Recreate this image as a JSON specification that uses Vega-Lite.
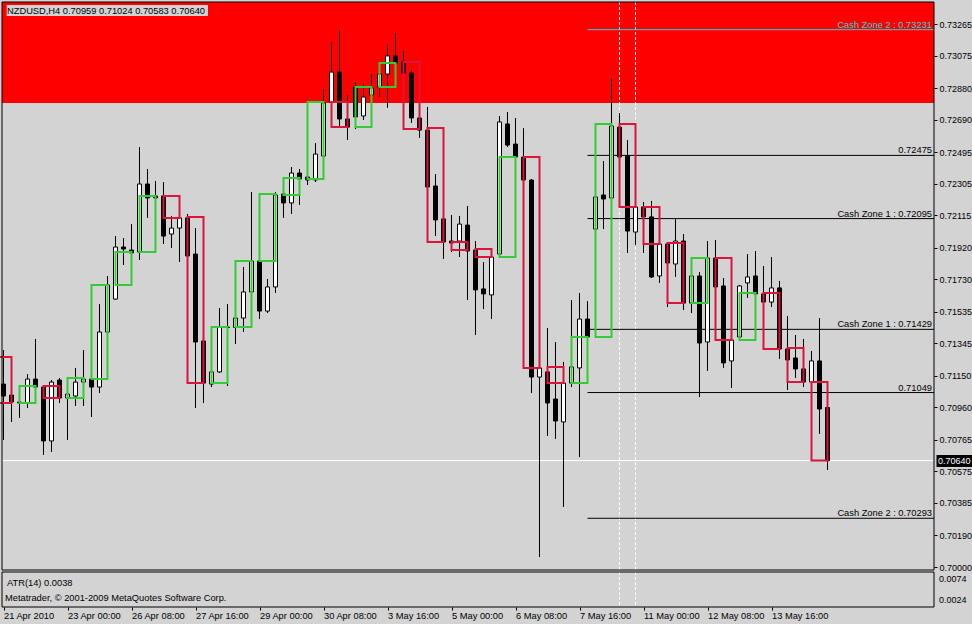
{
"$schema":"https://vega.github.io/schema/vega-lite/v6.json",
"width":932,"height":605,
"autosize":{"type":"none"},
"padding":{"left":2,"top":2,"right":38,"bottom":17},
"background":"#D3D3D3",
"config":{"view":{"stroke":null},"font":"Liberation Sans","text":{"font":"Liberation Sans","fontSize":9.3},
  "axis":{"grid":false,"domain":false,"labelFont":"Liberation Sans","labelFontSize":9,"labelColor":"black","tickColor":"black","titleColor":"transparent","labelOverlap":false,"labelBound":false,"labelFlush":false,"tickCount":40}},
"datasets":{
"candles":[
{"i":0,"o":0.71100,"h":0.71305,"l":0.70764,"c":0.71028},
{"i":1,"o":0.71034,"h":0.71046,"l":0.70872,"c":0.70992},
{"i":2,"o":0.70992,"h":0.71004,"l":0.70896,"c":0.70986},
{"i":3,"o":0.70986,"h":0.71160,"l":0.70956,"c":0.71130},
{"i":4,"o":0.71130,"h":0.71371,"l":0.71076,"c":0.71082},
{"i":5,"o":0.71082,"h":0.71094,"l":0.70674,"c":0.70758},
{"i":6,"o":0.70758,"h":0.71124,"l":0.70692,"c":0.71112},
{"i":7,"o":0.71124,"h":0.71136,"l":0.70986,"c":0.71016},
{"i":8,"o":0.71016,"h":0.71046,"l":0.70764,"c":0.71040},
{"i":9,"o":0.71028,"h":0.71197,"l":0.70968,"c":0.71112},
{"i":10,"o":0.71112,"h":0.71305,"l":0.70968,"c":0.71130},
{"i":11,"o":0.71130,"h":0.71136,"l":0.70902,"c":0.71082},
{"i":12,"o":0.71082,"h":0.71581,"l":0.71046,"c":0.71413},
{"i":13,"o":0.71413,"h":0.71750,"l":0.71410,"c":0.71696},
{"i":14,"o":0.71611,"h":0.71990,"l":0.71608,"c":0.71924},
{"i":15,"o":0.71924,"h":0.71978,"l":0.71816,"c":0.71912},
{"i":16,"o":0.71906,"h":0.72062,"l":0.71885,"c":0.71888},
{"i":17,"o":0.71894,"h":0.72525,"l":0.71846,"c":0.72303},
{"i":18,"o":0.72303,"h":0.72393,"l":0.72099,"c":0.72219},
{"i":19,"o":0.72231,"h":0.72321,"l":0.72207,"c":0.72219},
{"i":20,"o":0.72231,"h":0.72315,"l":0.71942,"c":0.71990},
{"i":21,"o":0.72002,"h":0.72111,"l":0.71918,"c":0.72038},
{"i":22,"o":0.72038,"h":0.72117,"l":0.71834,"c":0.72099},
{"i":23,"o":0.72099,"h":0.72123,"l":0.71867,"c":0.71870},
{"i":24,"o":0.71882,"h":0.72038,"l":0.70956,"c":0.71353},
{"i":25,"o":0.71359,"h":0.71365,"l":0.70986,"c":0.71106},
{"i":26,"o":0.71100,"h":0.71179,"l":0.71082,"c":0.71173},
{"i":27,"o":0.71173,"h":0.71557,"l":0.71167,"c":0.71443},
{"i":28,"o":0.71443,"h":0.71581,"l":0.71088,"c":0.71440},
{"i":29,"o":0.71440,"h":0.71500,"l":0.71341,"c":0.71497},
{"i":30,"o":0.71497,"h":0.71804,"l":0.71413,"c":0.71654},
{"i":31,"o":0.71654,"h":0.72255,"l":0.71650,"c":0.71840},
{"i":32,"o":0.71840,"h":0.71846,"l":0.71491,"c":0.71539},
{"i":33,"o":0.71539,"h":0.71732,"l":0.71527,"c":0.71684},
{"i":34,"o":0.71684,"h":0.72255,"l":0.71648,"c":0.72237},
{"i":35,"o":0.72243,"h":0.72345,"l":0.72099,"c":0.72189},
{"i":36,"o":0.72189,"h":0.72405,"l":0.72123,"c":0.72369},
{"i":37,"o":0.72369,"h":0.72393,"l":0.72177,"c":0.72333},
{"i":38,"o":0.72345,"h":0.72351,"l":0.72297,"c":0.72327},
{"i":39,"o":0.72327,"h":0.72549,"l":0.72315,"c":0.72483},
{"i":40,"o":0.72471,"h":0.72874,"l":0.72465,"c":0.72790},
{"i":41,"o":0.72796,"h":0.73157,"l":0.72790,"c":0.72976},
{"i":42,"o":0.72976,"h":0.73229,"l":0.72652,"c":0.72694},
{"i":43,"o":0.72694,"h":0.72838,"l":0.72568,"c":0.72645},
{"i":44,"o":0.72886,"h":0.72916,"l":0.72633,"c":0.72706},
{"i":45,"o":0.72712,"h":0.72910,"l":0.72688,"c":0.72826},
{"i":46,"o":0.72838,"h":0.72964,"l":0.72835,"c":0.72880},
{"i":47,"o":0.72886,"h":0.72988,"l":0.72826,"c":0.72964},
{"i":48,"o":0.72964,"h":0.73145,"l":0.72761,"c":0.73073},
{"i":49,"o":0.73073,"h":0.73211,"l":0.73028,"c":0.73031},
{"i":50,"o":0.73037,"h":0.73103,"l":0.72967,"c":0.72970},
{"i":51,"o":0.72970,"h":0.72988,"l":0.72670,"c":0.72700},
{"i":52,"o":0.72700,"h":0.72706,"l":0.72580,"c":0.72627},
{"i":53,"o":0.72627,"h":0.72766,"l":0.72282,"c":0.72285},
{"i":54,"o":0.72291,"h":0.72363,"l":0.71990,"c":0.72087},
{"i":55,"o":0.72093,"h":0.72099,"l":0.71852,"c":0.71954},
{"i":56,"o":0.71960,"h":0.72117,"l":0.71894,"c":0.71948},
{"i":57,"o":0.71960,"h":0.72111,"l":0.71864,"c":0.72062},
{"i":58,"o":0.72056,"h":0.72171,"l":0.71605,"c":0.71900},
{"i":59,"o":0.71906,"h":0.71960,"l":0.71395,"c":0.71666},
{"i":60,"o":0.71672,"h":0.71834,"l":0.71551,"c":0.71642},
{"i":61,"o":0.71636,"h":0.71870,"l":0.71491,"c":0.71864},
{"i":62,"o":0.71882,"h":0.72712,"l":0.71876,"c":0.72676},
{"i":63,"o":0.72664,"h":0.72736,"l":0.72525,"c":0.72537},
{"i":64,"o":0.72543,"h":0.72700,"l":0.72462,"c":0.72465},
{"i":65,"o":0.72465,"h":0.72639,"l":0.72324,"c":0.72327},
{"i":66,"o":0.72327,"h":0.72333,"l":0.71046,"c":0.71142},
{"i":67,"o":0.71142,"h":0.71203,"l":0.70060,"c":0.71197},
{"i":68,"o":0.71173,"h":0.71437,"l":0.70788,"c":0.70986},
{"i":69,"o":0.71010,"h":0.71353,"l":0.70770,"c":0.70878},
{"i":70,"o":0.70872,"h":0.71233,"l":0.70361,"c":0.71106},
{"i":71,"o":0.71106,"h":0.71605,"l":0.71082,"c":0.71203},
{"i":72,"o":0.71197,"h":0.71648,"l":0.70661,"c":0.71491},
{"i":73,"o":0.71491,"h":0.71599,"l":0.71380,"c":0.71383},
{"i":74,"o":0.72032,"h":0.72231,"l":0.71377,"c":0.72225},
{"i":75,"o":0.72237,"h":0.72441,"l":0.72032,"c":0.72213},
{"i":76,"o":0.72219,"h":0.72940,"l":0.72213,"c":0.72652},
{"i":77,"o":0.72645,"h":0.72730,"l":0.72462,"c":0.72465},
{"i":78,"o":0.72471,"h":0.72568,"l":0.71888,"c":0.72020},
{"i":79,"o":0.72014,"h":0.72168,"l":0.71936,"c":0.72165},
{"i":80,"o":0.72165,"h":0.72195,"l":0.71888,"c":0.72105},
{"i":81,"o":0.72105,"h":0.72201,"l":0.71738,"c":0.71744},
{"i":82,"o":0.71750,"h":0.71948,"l":0.71708,"c":0.71942},
{"i":83,"o":0.71942,"h":0.71948,"l":0.71563,"c":0.71828},
{"i":84,"o":0.71822,"h":0.72099,"l":0.71744,"c":0.71960},
{"i":85,"o":0.71960,"h":0.72002,"l":0.71545,"c":0.71587},
{"i":86,"o":0.71587,"h":0.71756,"l":0.71527,"c":0.71750},
{"i":87,"o":0.71750,"h":0.71774,"l":0.71022,"c":0.71347},
{"i":88,"o":0.71353,"h":0.71960,"l":0.71179,"c":0.71858},
{"i":89,"o":0.71858,"h":0.71966,"l":0.71681,"c":0.71684},
{"i":90,"o":0.71690,"h":0.71738,"l":0.71197,"c":0.71227},
{"i":91,"o":0.71239,"h":0.71371,"l":0.71076,"c":0.71365},
{"i":92,"o":0.71383,"h":0.71696,"l":0.71377,"c":0.71690},
{"i":93,"o":0.71708,"h":0.71882,"l":0.71618,"c":0.71744},
{"i":94,"o":0.71750,"h":0.71900,"l":0.71639,"c":0.71642},
{"i":95,"o":0.71642,"h":0.71810,"l":0.71590,"c":0.71593},
{"i":96,"o":0.71593,"h":0.71864,"l":0.71563,"c":0.71678},
{"i":97,"o":0.71678,"h":0.71720,"l":0.71251,"c":0.71311},
{"i":98,"o":0.71311,"h":0.71509,"l":0.71064,"c":0.71245},
{"i":99,"o":0.71257,"h":0.71395,"l":0.71136,"c":0.71191},
{"i":100,"o":0.71191,"h":0.71371,"l":0.71082,"c":0.71112},
{"i":101,"o":0.71112,"h":0.71299,"l":0.71106,"c":0.71239},
{"i":102,"o":0.71239,"h":0.71497,"l":0.70800,"c":0.70950},
{"i":103,"o":0.70959,"h":0.71024,"l":0.70583,"c":0.70640}
],
"boxes":[
{"start":-1,"end":1,"open":0.71263,"close":0.70986},
{"start":2,"end":4,"open":0.70986,"close":0.71088},
{"start":5,"end":7,"open":0.71088,"close":0.71016},
{"start":8,"end":10,"open":0.71016,"close":0.71136},
{"start":11,"end":13,"open":0.71130,"close":0.71696},
{"start":14,"end":16,"open":0.71696,"close":0.71894},
{"start":17,"end":19,"open":0.71894,"close":0.72231},
{"start":20,"end":22,"open":0.72231,"close":0.72099},
{"start":23,"end":25,"open":0.72105,"close":0.71106},
{"start":26,"end":28,"open":0.71106,"close":0.71443},
{"start":29,"end":31,"open":0.71443,"close":0.71840},
{"start":32,"end":34,"open":0.71840,"close":0.72243},
{"start":35,"end":37,"open":0.72237,"close":0.72339},
{"start":38,"end":40,"open":0.72333,"close":0.72796},
{"start":41,"end":43,"open":0.72796,"close":0.72645},
{"start":44,"end":46,"open":0.72645,"close":0.72886},
{"start":47,"end":49,"open":0.72886,"close":0.73031},
{"start":50,"end":52,"open":0.73037,"close":0.72633},
{"start":53,"end":55,"open":0.72639,"close":0.71954},
{"start":56,"end":58,"open":0.71954,"close":0.71906},
{"start":59,"end":61,"open":0.71912,"close":0.71864},
{"start":62,"end":64,"open":0.71864,"close":0.72465},
{"start":65,"end":67,"open":0.72465,"close":0.71197},
{"start":68,"end":70,"open":0.71203,"close":0.71106},
{"start":71,"end":73,"open":0.71106,"close":0.71383},
{"start":74,"end":76,"open":0.71383,"close":0.72664},
{"start":77,"end":79,"open":0.72664,"close":0.72165},
{"start":80,"end":82,"open":0.72165,"close":0.71942},
{"start":83,"end":85,"open":0.71948,"close":0.71587},
{"start":86,"end":88,"open":0.71587,"close":0.71858},
{"start":89,"end":91,"open":0.71858,"close":0.71365},
{"start":92,"end":94,"open":0.71365,"close":0.71648},
{"start":95,"end":97,"open":0.71648,"close":0.71311},
{"start":98,"end":100,"open":0.71317,"close":0.71112},
{"start":101,"end":103,"open":0.71112,"close":0.70640}
],
"levels":[
{"price":0.73231,"label":"Cash Zone 2 : 0.73231"},
{"price":0.72475,"label":"0.72475"},
{"price":0.72095,"label":"Cash Zone 1 : 0.72095"},
{"price":0.71429,"label":"Cash Zone 1 : 0.71429"},
{"price":0.71049,"label":"0.71049"},
{"price":0.70293,"label":"Cash Zone 2 : 0.70293"}
]
},
"layer":[
{"data":{"values":[{"from":0.7279,"to":0.74}]},
 "mark":{"type":"rect","color":"#FF0000","clip":true},
 "encoding":{
  "x":{"datum":-1,"type":"quantitative","scale":{"domain":[-0.1875,116.3125],"nice":false,"zero":false,"padding":0}},
  "x2":{"datum":118},
  "y":{"field":"from","type":"quantitative","scale":{"domain":[0.697595,0.733973],"nice":false,"zero":false}},
  "y2":{"field":"to"}}},
{"data":{"values":[{"i":77},{"i":79}]},
 "mark":{"type":"rule","color":"white","strokeWidth":1,"strokeDash":[3,2]},
 "encoding":{"x":{"field":"i","type":"quantitative","scale":{"domain":[-0.1875,116.3125],"nice":false,"zero":false,"padding":0}}}},
{"data":{"values":[{"price":0.7064}]},
 "mark":{"type":"rule","color":"white","strokeWidth":1},
 "encoding":{"y":{"field":"price","type":"quantitative","scale":{"domain":[0.697595,0.733973],"nice":false,"zero":false}}}},
{"data":{"name":"levels"},
 "mark":{"type":"rule","strokeWidth":1},
 "encoding":{
  "x":{"datum":73,"type":"quantitative","scale":{"domain":[-0.1875,116.3125],"nice":false,"zero":false,"padding":0}},
  "x2":{"datum":116.3125},
  "y":{"field":"price","type":"quantitative","scale":{"domain":[0.697595,0.733973],"nice":false,"zero":false}},
  "color":{"condition":{"test":"datum.price > 0.73","value":"#22D3D8"},"value":"black"}}},
{"data":{"name":"levels"},
 "mark":{"type":"text","align":"right","baseline":"alphabetic","dy":-2,"font":"Liberation Sans","fontSize":9.3},
 "encoding":{
  "x":{"datum":116.06,"type":"quantitative","scale":{"domain":[-0.1875,116.3125],"nice":false,"zero":false,"padding":0}},
  "y":{"field":"price","type":"quantitative","scale":{"domain":[0.697595,0.733973],"nice":false,"zero":false}},
  "text":{"field":"label"},
  "color":{"condition":{"test":"datum.price > 0.73","value":"#22D3D8"},"value":"black"}}},
{"data":{"name":"candles"},
 "mark":{"type":"rule","color":"black","strokeWidth":1},
 "encoding":{
  "x":{"field":"i","type":"quantitative","scale":{"domain":[-0.1875,116.3125],"nice":false,"zero":false,"padding":0},
       "axis":{"orient":"bottom","values":[0,8,16,24,32,40,48,56,64,72,80,88,96],"tickCount":40,
               "labelExpr":"['21 Apr 2010','23 Apr 00:00','26 Apr 08:00','27 Apr 16:00','29 Apr 00:00','30 Apr 08:00','3 May 16:00','5 May 00:00','6 May 08:00','7 May 16:00','11 May 00:00','12 May 08:00','13 May 16:00'][round(datum.value/8)]",
               "labelAlign":"left","labelBaseline":"top","labelPadding":1,"tickSize":3,"labelFontSize":9.3,
               "title":null,"labelFlush":false,"labelOverlap":false,"labelBound":false}},
  "y":{"field":"l","type":"quantitative","scale":{"domain":[0.697595,0.733973],"nice":false,"zero":false},
       "axis":{"orient":"right","values":[0.73265,0.73075,0.7288,0.7269,0.72495,0.72305,0.72115,0.7192,0.7173,0.71535,0.71345,0.7115,0.7096,0.70765,0.70575,0.70385,0.7019,0.7],
               "tickCount":40,"format":".5f",
               "tickSize":3,"labelPadding":2,"title":null,"labelOverlap":false,"labelBound":false,"labelFlush":false}},
  "y2":{"field":"h"}}},
{"data":{"name":"candles"},
 "mark":{"type":"bar","size":4,"stroke":"black","strokeWidth":1},
 "encoding":{
  "x":{"field":"i","type":"quantitative","scale":{"domain":[-0.1875,116.3125],"nice":false,"zero":false,"padding":0}},
  "y":{"field":"o","type":"quantitative","scale":{"domain":[0.697595,0.733973],"nice":false,"zero":false}},
  "y2":{"field":"c"},
  "fill":{"condition":{"test":"datum.c >= datum.o","value":"white"},"value":"black"}}},
{"data":{"name":"boxes"},
 "mark":{"type":"rect","fill":"transparent","strokeWidth":2},
 "encoding":{
  "x":{"field":"start","type":"quantitative","scale":{"domain":[-0.1875,116.3125],"nice":false,"zero":false,"padding":0}},
  "x2":{"field":"end"},
  "y":{"field":"open","type":"quantitative","scale":{"domain":[0.697595,0.733973],"nice":false,"zero":false}},
  "y2":{"field":"close"},
  "stroke":{"condition":{"test":"datum.close > datum.open","value":"#32CD32"},"value":"#DC143C"}}},
{"data":{"values":[{}]},
 "mark":{"type":"rect","fill":"transparent","stroke":"black","strokeWidth":1},
 "encoding":{
  "x":{"datum":-0.1875,"type":"quantitative","scale":{"domain":[-0.1875,116.3125],"nice":false,"zero":false,"padding":0}},
  "x2":{"datum":116.3125},
  "y":{"datum":0.699819,"type":"quantitative","scale":{"domain":[0.697595,0.733973],"nice":false,"zero":false}},
  "y2":{"datum":0.733973}}},
{"data":{"values":[{}]},
 "mark":{"type":"rect","fill":"transparent","stroke":"black","strokeWidth":1},
 "encoding":{
  "x":{"datum":-0.1875,"type":"quantitative","scale":{"domain":[-0.1875,116.3125],"nice":false,"zero":false,"padding":0}},
  "x2":{"datum":116.3125},
  "y":{"datum":0.697595,"type":"quantitative","scale":{"domain":[0.697595,0.733973],"nice":false,"zero":false}},
  "y2":{"datum":0.699699}}},
{"data":{"values":[{}]},
 "mark":{"type":"rect","color":"#D3D3D3"},
 "encoding":{
  "x":{"datum":0.4,"type":"quantitative","scale":{"domain":[-0.1875,116.3125],"nice":false,"zero":false,"padding":0}},
  "x2":{"datum":25.56},
  "y":{"datum":0.733131,"type":"quantitative","scale":{"domain":[0.697595,0.733973],"nice":false,"zero":false}},
  "y2":{"datum":0.733792}}},
{"data":{"values":[{}]},
 "mark":{"type":"text","text":"NZDUSD,H4  0.70959 0.71024 0.70583 0.70640","align":"left","baseline":"middle","color":"black","font":"Liberation Sans","fontSize":9.3},
 "encoding":{
  "x":{"datum":0.44,"type":"quantitative","scale":{"domain":[-0.1875,116.3125],"nice":false,"zero":false,"padding":0}},
  "y":{"datum":0.73346,"type":"quantitative","scale":{"domain":[0.697595,0.733973],"nice":false,"zero":false}}}},
{"data":{"values":[{}]},
 "mark":{"type":"text","text":"ATR(14) 0.0038","align":"left","baseline":"middle","color":"black","font":"Liberation Sans","fontSize":9.3},
 "encoding":{
  "x":{"datum":0.44,"type":"quantitative","scale":{"domain":[-0.1875,116.3125],"nice":false,"zero":false,"padding":0}},
  "y":{"datum":0.699068,"type":"quantitative","scale":{"domain":[0.697595,0.733973],"nice":false,"zero":false}}}},
{"data":{"values":[{}]},
 "mark":{"type":"text","text":"Metatrader, © 2001-2009 MetaQuotes Software Corp.","align":"left","baseline":"middle","color":"black","font":"Liberation Sans","fontSize":9.3},
 "encoding":{
  "x":{"datum":0.2,"type":"quantitative","scale":{"domain":[-0.1875,116.3125],"nice":false,"zero":false,"padding":0}},
  "y":{"datum":0.698166,"type":"quantitative","scale":{"domain":[0.697595,0.733973],"nice":false,"zero":false}}}},
{"data":{"values":[{}]},
 "mark":{"type":"text","text":"0.0074","align":"left","baseline":"middle","color":"black","font":"Liberation Sans","fontSize":9},
 "encoding":{
  "x":{"datum":116.94,"type":"quantitative","scale":{"domain":[-0.1875,116.3125],"nice":false,"zero":false,"padding":0}},
  "y":{"datum":0.69928,"type":"quantitative","scale":{"domain":[0.697595,0.733973],"nice":false,"zero":false}}}},
{"data":{"values":[{}]},
 "mark":{"type":"text","text":"0.0024","align":"left","baseline":"middle","color":"black","font":"Liberation Sans","fontSize":9},
 "encoding":{
  "x":{"datum":116.94,"type":"quantitative","scale":{"domain":[-0.1875,116.3125],"nice":false,"zero":false,"padding":0}},
  "y":{"datum":0.69799,"type":"quantitative","scale":{"domain":[0.697595,0.733973],"nice":false,"zero":false}}}},
{"data":{"values":[{}]},
 "mark":{"type":"rect","color":"black"},
 "encoding":{
  "x":{"datum":116.625,"type":"quantitative","scale":{"domain":[-0.1875,116.3125],"nice":false,"zero":false,"padding":0}},
  "x2":{"datum":121.3},
  "y":{"datum":0.706013,"type":"quantitative","scale":{"domain":[0.697595,0.733973],"nice":false,"zero":false}},
  "y2":{"datum":0.706734}}},
{"data":{"values":[{"price":0.7064}]},
 "mark":{"type":"text","align":"left","baseline":"middle","color":"white","font":"Liberation Sans","fontSize":9},
 "encoding":{
  "x":{"datum":116.81,"type":"quantitative","scale":{"domain":[-0.1875,116.3125],"nice":false,"zero":false,"padding":0}},
  "y":{"field":"price","type":"quantitative","scale":{"domain":[0.697595,0.733973],"nice":false,"zero":false}},
  "text":{"field":"price","format":".5f"}}}
]
}
